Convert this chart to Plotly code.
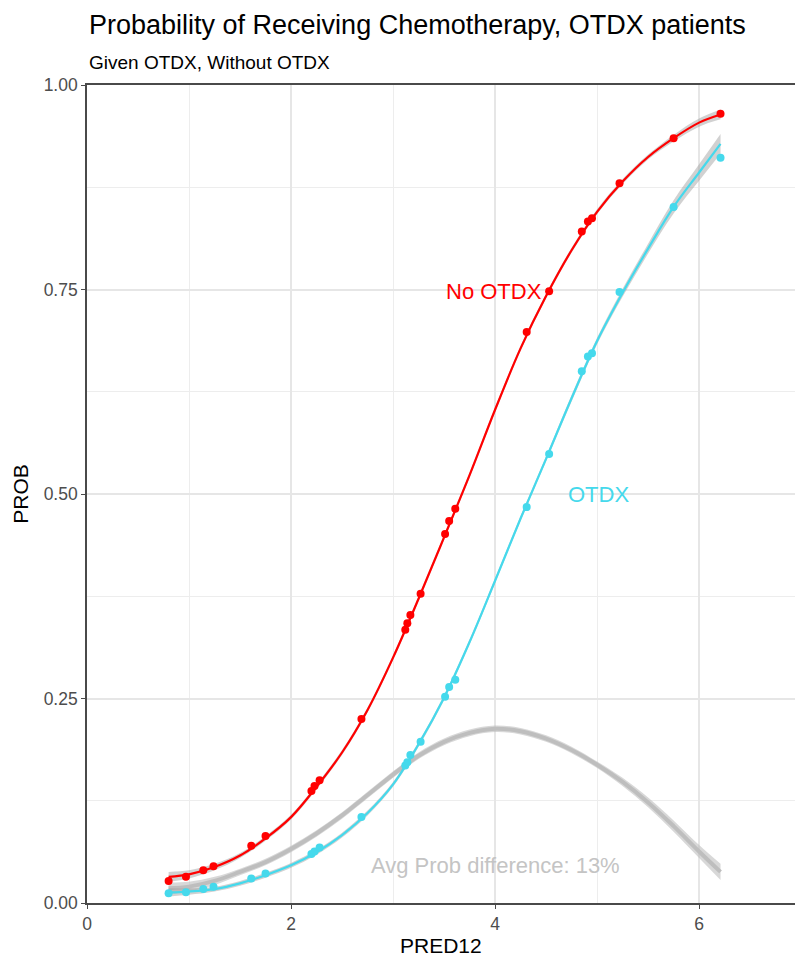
import plotly.graph_objects as go

# Observed group-level probabilities by predicted score
pred12 = [0.80, 0.97, 1.14, 1.24, 1.61, 1.75, 2.20, 2.23, 2.28, 2.69, 3.12, 3.14, 3.17,
          3.27, 3.51, 3.55, 3.61, 4.31, 4.53, 4.85, 4.91, 4.95, 5.22, 5.75, 6.21]
prob_no_otdx = [0.027, 0.032, 0.040, 0.045, 0.070, 0.082, 0.137, 0.143, 0.150, 0.225, 0.334,
                0.342, 0.352, 0.378, 0.451, 0.467, 0.482, 0.698, 0.748, 0.821, 0.833, 0.837,
                0.880, 0.935, 0.965]
prob_otdx = [0.012, 0.013, 0.017, 0.020, 0.030, 0.036, 0.060, 0.063, 0.068, 0.105, 0.168,
             0.172, 0.181, 0.197, 0.252, 0.264, 0.273, 0.484, 0.549, 0.650, 0.668, 0.672,
             0.747, 0.851, 0.911]

# Smoothed fits on a common grid
grid = [0.80, 1.00, 1.25, 1.50, 1.75, 2.00, 2.25, 2.50, 2.75, 3.00, 3.25, 3.50, 3.75,
        4.00, 4.25, 4.50, 4.75, 5.00, 5.25, 5.50, 5.75, 6.00, 6.21]
fit_no_otdx = [0.032, 0.035, 0.044, 0.058, 0.079, 0.105, 0.142, 0.184, 0.236, 0.300, 0.372,
               0.447, 0.523, 0.603, 0.678, 0.742, 0.798, 0.845, 0.882, 0.912, 0.935, 0.954, 0.964]
se_no_otdx = [0.006, 0.005, 0.004, 0.003, 0.003, 0.003, 0.003, 0.003, 0.003, 0.003, 0.003,
              0.003, 0.003, 0.003, 0.003, 0.003, 0.003, 0.003, 0.003, 0.003, 0.004, 0.005, 0.006]
fit_otdx = [0.013, 0.014, 0.017, 0.024, 0.034, 0.046, 0.062, 0.083, 0.110, 0.145, 0.194,
            0.251, 0.319, 0.394, 0.470, 0.543, 0.617, 0.687, 0.746, 0.800, 0.851, 0.893, 0.928]
se_otdx = [0.005, 0.004, 0.003, 0.003, 0.003, 0.003, 0.003, 0.003, 0.003, 0.003, 0.003,
           0.003, 0.003, 0.003, 0.003, 0.003, 0.004, 0.004, 0.005, 0.006, 0.008, 0.010, 0.012]
fit_diff = [0.018, 0.020, 0.027, 0.038, 0.050, 0.066, 0.085, 0.107, 0.132, 0.157, 0.180,
            0.197, 0.208, 0.213, 0.210, 0.201, 0.187, 0.169, 0.148, 0.123, 0.094, 0.063, 0.038]
se_diff = [0.007, 0.006, 0.005, 0.004, 0.004, 0.004, 0.004, 0.004, 0.004, 0.004, 0.004,
           0.004, 0.004, 0.004, 0.004, 0.004, 0.004, 0.004, 0.005, 0.006, 0.007, 0.008, 0.010]

x_ticks = [0, 2, 4, 6]
y_ticks = [0.00, 0.25, 0.50, 0.75, 1.00]

RED = "#FF0000"
CYAN = "#45D9EC"
GRAY = "#BEBEBE"
FONT = "Liberation Sans, Arial, sans-serif"

fig = go.Figure()


def add_band(x, fit, se, fill):
    lower = [f - s for f, s in zip(fit, se)]
    upper = [f + s for f, s in zip(fit, se)]
    fig.add_trace(go.Scatter(x=x, y=lower, mode="lines", line=dict(width=0, shape="spline"),
                             hoverinfo="skip", showlegend=False))
    fig.add_trace(go.Scatter(x=x, y=upper, mode="lines", line=dict(width=0, shape="spline"),
                             fill="tonexty", fillcolor=fill, hoverinfo="skip", showlegend=False))


# Difference curve with its band
add_band(grid, fit_diff, se_diff, "rgba(190,190,190,0.6)")
fig.add_trace(go.Scatter(x=grid, y=fit_diff, mode="lines",
                         line=dict(color=GRAY, width=4, shape="spline"), showlegend=False))

# Group fits
add_band(grid, fit_no_otdx, se_no_otdx, "rgba(153,153,153,0.45)")
add_band(grid, fit_otdx, se_otdx, "rgba(153,153,153,0.45)")
fig.add_trace(go.Scatter(x=grid, y=fit_no_otdx, mode="lines",
                         line=dict(color=RED, width=2.2, shape="spline"), showlegend=False))
fig.add_trace(go.Scatter(x=grid, y=fit_otdx, mode="lines",
                         line=dict(color=CYAN, width=2.2, shape="spline"), showlegend=False))

# Observed points
fig.add_trace(go.Scatter(x=pred12, y=prob_no_otdx, mode="markers",
                         marker=dict(color=RED, size=8), showlegend=False))
fig.add_trace(go.Scatter(x=pred12, y=prob_otdx, mode="markers",
                         marker=dict(color=CYAN, size=8), showlegend=False))

annotations = [
    dict(text="No OTDX", x=4.48, y=0.748, xref="x", yref="y", xanchor="right",
         yanchor="middle", showarrow=False, font=dict(color=RED, size=22, family=FONT)),
    dict(text="OTDX", x=5.01, y=0.50, xref="x", yref="y", xanchor="center",
         yanchor="middle", showarrow=False, font=dict(color=CYAN, size=22, family=FONT)),
    dict(text="Avg Prob difference: 13%", x=4.0, y=0.046, xref="x", yref="y",
         xanchor="center", yanchor="middle", showarrow=False,
         font=dict(color="#C4C4C4", size=22, family=FONT)),
    dict(text="Probability of Receiving Chemotherapy, OTDX patients", x=0, y=1.073,
         xref="paper", yref="paper", xanchor="left", yanchor="middle", showarrow=False,
         font=dict(color="black", size=27, family=FONT)),
    dict(text="Given OTDX, Without OTDX", x=0, y=1.028, xref="paper", yref="paper",
         xanchor="left", yanchor="middle", showarrow=False,
         font=dict(color="black", size=19, family=FONT)),
    dict(text="PRED12", x=0.5, y=-0.052, xref="paper", yref="paper", xanchor="center",
         yanchor="middle", showarrow=False, font=dict(color="black", size=21, family=FONT)),
    dict(text="PROB", x=-0.095, y=0.5, xref="paper", yref="paper", xanchor="center",
         yanchor="middle", textangle=-90, showarrow=False,
         font=dict(color="black", size=21, family=FONT)),
]

axis_common = dict(
    showline=True, linecolor="#4A4A4A", linewidth=1.6,
    ticks="outside", ticklen=4, tickcolor="#4A4A4A", tickwidth=1.2,
    showgrid=True, gridcolor="#E6E6E6", gridwidth=1.5,
    zeroline=False, tickfont=dict(color="#4D4D4D", size=17.5, family=FONT),
)

fig.update_layout(
    width=795, height=961,
    margin=dict(l=87, r=0, t=85, b=58),
    paper_bgcolor="white", plot_bgcolor="white",
    showlegend=False,
    annotations=annotations,
    xaxis=dict(range=[0, 6.94], tickvals=x_ticks, ticktext=[str(v) for v in x_ticks],
               mirror=True, minor=dict(dtick=1, tick0=0, showgrid=True, gridcolor="#EDEDED",
                                       gridwidth=1.2, ticklen=0),
               **axis_common),
    yaxis=dict(range=[0, 1], tickvals=y_ticks, ticktext=[f"{v:.2f}" for v in y_ticks],
               minor=dict(dtick=0.125, tick0=0, showgrid=True, gridcolor="#EDEDED",
                          gridwidth=1.2, ticklen=0),
               **axis_common),
)

fig.write_html("out.html")
